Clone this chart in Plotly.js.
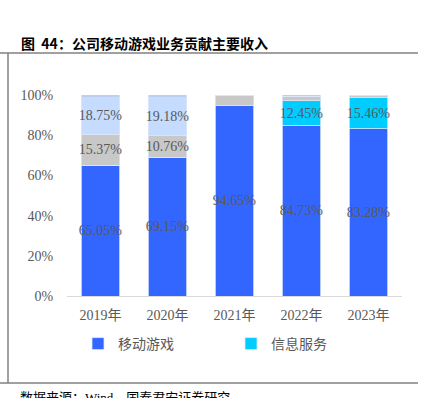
<!DOCTYPE html>
<html><head><meta charset="utf-8">
<script src="https://cdn.plot.ly/plotly-3.0.1.min.js"></script>
<style>html,body{margin:0;padding:0;background:#fff;}#chart{width:425px;height:398px;}</style>
</head><body><div id="chart"></div>
<script>
const years = ['2019年','2020年','2021年','2022年','2023年'];
const mobileGame = [65.05, 69.15, 94.65, 84.73, 83.28];
const infoService = [0, 0, 0, 12.45, 15.46];
const otherGray = [15.37, 10.76, 5.35, 2.32, 1.26];
const otherLight = [18.75, 19.18, 0, 0, 0];
const otherDark = [0.83, 0.91, 0, 0.5, 0];
const grayLabels = ['15.37%', '10.76%', '', '', ''];
const seriesNames = ['移动游戏', '信息服务'];

const labelFont = {family: '"Liberation Serif", "Times New Roman", serif', size: 14, color: '#595959'};
const fmt = v => v > 0 ? v.toFixed(2) + '%' : '';
function barTrace(name, y, color, text, showlegend) {
  return {
    type: 'bar', name: name, x: years, y: y,
    marker: {color: color, line: {color: '#DCE6F7', width: 0.8}},
    text: text, textposition: 'inside', insidetextanchor: 'middle',
    textangle: 0, constraintext: 'none', textfont: labelFont,
    showlegend: showlegend, hoverinfo: 'skip'
  };
}
const data = [
  barTrace(seriesNames[0], mobileGame, '#3366FF', mobileGame.map(fmt), true),
  barTrace(seriesNames[1], infoService, '#00CCFF', infoService.map(fmt), true),
  barTrace('其他', otherGray, '#C8C8C8', grayLabels, false),
  barTrace('其他2', otherLight, '#C5DCFF', otherLight.map(fmt), false),
  barTrace('其他3', otherDark, '#4472C4', otherDark.map(() => ''), false)
];

const L = 67, R = 23, T = 95, B = 102, W = 425, H = 398;
const pw = W - L - R, ph = H - T - B;
const px = x => (x - L) / pw;
const py = y => (H - B - y) / ph;
const lineStyle = {color: '#808080', width: 1.5};

const layout = {
  width: W, height: H,
  margin: {l: L, r: R, t: T, b: B},
  paper_bgcolor: '#fff', plot_bgcolor: '#fff',
  barmode: 'stack', bargap: 0.42,
  showlegend: true,
  legend: {orientation: 'h', traceorder: 'normal', x: px(78), xanchor: 'left', y: py(344), yanchor: 'middle',
    entrywidth: 108, entrywidthmode: 'pixels',
    font: {family: '"Noto Sans CJK SC", sans-serif', size: 14, color: '#595959'}},
  xaxis: {
    showgrid: false, showline: true, linecolor: '#D9D9D9', linewidth: 1,
    ticks: 'outside', ticklen: 6, tickcolor: 'rgba(0,0,0,0)',
    tickfont: {family: '"Liberation Serif", "Noto Sans CJK SC", serif', size: 14, color: '#595959'}
  },
  yaxis: {
    range: [0, 100], dtick: 20, ticksuffix: '%', showgrid: false, zeroline: false,
    showline: false, ticks: 'outside', ticklen: 10, tickcolor: 'rgba(0,0,0,0)',
    tickfont: {family: '"Liberation Serif", "Times New Roman", serif', size: 14, color: '#595959'}
  },
  shapes: [
    {type: 'line', xref: 'paper', yref: 'paper', x0: px(0), x1: px(418), y0: py(53), y1: py(53), line: lineStyle},
    {type: 'line', xref: 'paper', yref: 'paper', x0: px(8), x1: px(8), y0: py(53), y1: py(383), line: lineStyle},
    {type: 'line', xref: 'paper', yref: 'paper', x0: px(0), x1: px(418), y0: py(383), y1: py(383), line: lineStyle}
  ],
  annotations: [
    {xref: 'paper', yref: 'paper', x: px(19), y: py(43), xanchor: 'left', yanchor: 'middle', showarrow: false,
     text: '<b>图  44：公司移动游戏业务贡献主要收入</b>',
     font: {family: '"Noto Sans CJK SC", sans-serif', size: 14, color: '#000'}},
    {xref: 'paper', yref: 'paper', x: px(18), y: py(397), xanchor: 'left', yanchor: 'middle', showarrow: false,
     text: '数据来源：Wind，国泰君安证券研究',
     font: {family: '"Liberation Serif", "Noto Sans CJK SC", serif', size: 13, color: '#000'}}
  ]
};
Plotly.newPlot('chart', data, layout, {displayModeBar: false, staticPlot: true});
</script></body></html>
